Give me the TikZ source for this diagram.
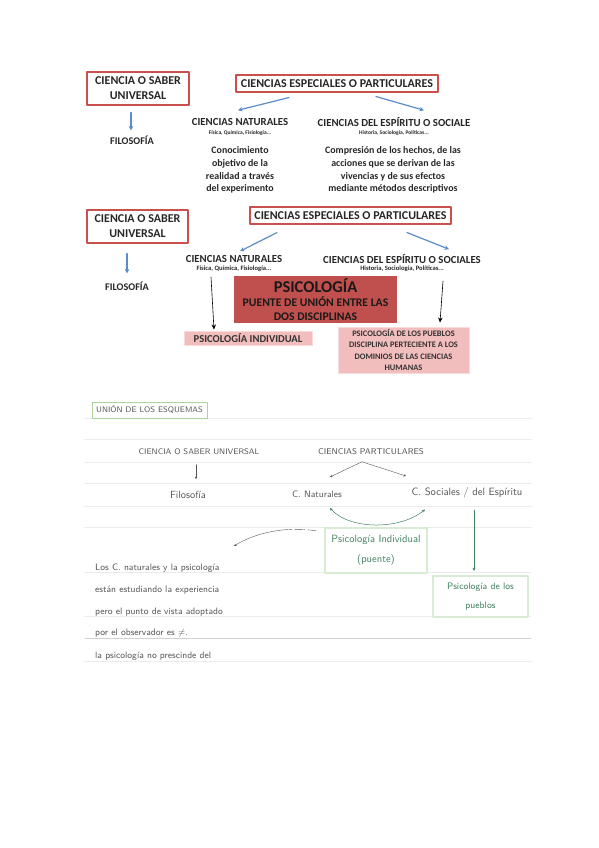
\documentclass[tikz,border=0pt]{standalone}
\usepackage{fontspec}
\setmainfont{Carlito}
\usepackage{xcolor}
\usetikzlibrary{arrows.meta}
\definecolor{boxred}{HTML}{C9504D}
\definecolor{arrblue}{HTML}{5B8BC9}
\definecolor{psired}{HTML}{C0504D}
\definecolor{psipink}{HTML}{F2BDBD}
\definecolor{hgreen}{HTML}{3F7F60}
\definecolor{hbox}{HTML}{D8ECD4}
\definecolor{hunion}{HTML}{A9D49D}
\definecolor{hline}{HTML}{EBEBEB}
\definecolor{hink}{HTML}{555555}
\tikzset{
  every picture/.style={line join=round, line cap=round, >=Stealth},
  txt/.style={inner sep=0pt, text=black!85},
  redbox/.style={draw=boxred, line width=1.1pt, inner sep=0pt, align=center, text=black!85,
    font=\bfseries\fontsize{12}{15}\selectfont},
  title/.style={txt, font=\bfseries\fontsize{10.8}{12}\selectfont},
  subtitle/.style={txt, font=\bfseries\fontsize{5.5}{6}\selectfont},
  desc/.style={txt, align=center, font=\bfseries\fontsize{9.9}{12.8}\selectfont},
  bluearr/.style={draw=arrblue, line width=1.2pt, -{Stealth[length=4.5pt,width=4.5pt]}},
  blackarr/.style={draw=black, line width=0.6pt, -{Stealth[length=5pt,width=4.5pt]}},
  pinkbox/.style={fill=psipink, draw=psipink!55, line width=1pt, inner sep=0pt, align=center,
    text=black!80, font=\bfseries},
  hand/.style={inner sep=0pt, text=hink, font=\sffamily\fontsize{9.3}{11}\selectfont},
  handcaps/.style={inner sep=0pt, text=hink, font=\sffamily\fontsize{8.1}{9}\selectfont},
  handarr/.style={draw=hink, line width=0.4pt, -{Stealth[length=2.5pt,width=2.5pt]}},
  greenarr/.style={draw=hgreen, line width=0.5pt},
  greenbox/.style={draw=hbox, line width=2.4pt, inner sep=0pt, align=center, text=hgreen,
    font=\sffamily\fontsize{10.5}{20}\selectfont},
}

\begin{document}
\begin{tikzpicture}[x=1pt,y=-1pt]
\useasboundingbox (0,0) rectangle (599,848);
% first scheme
\begin{scope}
\node[redbox, minimum width=102pt, minimum height=33pt] (univ1) at (138,88.5) {CIENCIA O SABER\\UNIVERSAL};
\node[redbox, minimum width=202pt, minimum height=17pt] (esp1) at (337,83.5) {CIENCIAS ESPECIALES O PARTICULARES};
\node[title, font=\bfseries\fontsize{10.2}{11}\selectfont] (filo1) at (132,140) {FILOSOFÍA};
\node[title] (nat1) at (240,122) {CIENCIAS NATURALES};
\node[subtitle] (nat1s) at (240,133) {Física, Química, Fisiología...};
\node[title] (soc1) at (394,122) {CIENCIAS DEL ESPÍRITU O SOCIALE};
\node[subtitle] (soc1s) at (394,133) {Historia, Sociología, Políticas...};
\node[desc] (nat1d) at (240,170) {Conocimiento\\objetivo de la\\realidad a través\\del experimento};
\node[desc] (soc1d) at (393,170) {Compresión de los hechos, de las\\acciones que se derivan de las\\vivencias y de sus efectos\\mediante métodos descriptivos};
\draw[bluearr] ([xshift=-7pt,yshift=-7pt]univ1.south) -- ([xshift=-1pt,yshift=5pt]filo1.north);
\draw[bluearr] ([xshift=-48pt,yshift=-5pt]esp1.south) -- ([xshift=-2pt,yshift=8pt]nat1.north);
\draw[bluearr] ([xshift=39pt,yshift=-4pt]esp1.south) -- ([xshift=30pt,yshift=7pt]soc1.north);
\end{scope}
% second scheme
\begin{scope}
\node[redbox, minimum width=101pt, minimum height=33pt] (univ2) at (137.5,226.5) {CIENCIA O SABER\\UNIVERSAL};
\node[redbox, minimum width=201pt, minimum height=17pt] (esp2) at (350.5,215.5) {CIENCIAS ESPECIALES O PARTICULARES};
\node[title, font=\bfseries\fontsize{10.2}{11}\selectfont] (filo2) at (127,286) {FILOSOFÍA};
\node[title] (nat2) at (234,259) {CIENCIAS NATURALES};
\node[subtitle, font=\bfseries\fontsize{6.6}{7}\selectfont] (nat2s) at (234,269) {Física, Química, Fisiología...};
\node[title] (soc2) at (402,259) {CIENCIAS DEL ESPÍRITU O SOCIALES};
\node[subtitle, font=\bfseries\fontsize{6.6}{7}\selectfont] (soc2s) at (402,269) {Historia, Sociología, Políticas...};
\node[fill=psired, inner sep=0pt, minimum width=163pt, minimum height=47pt, align=center,
  text=black!90, font=\bfseries\fontsize{11.7}{14}\selectfont] (psi2) at (315.5,299.5)
  {{\fontsize{16.5}{15}\selectfont PSICOLOGÍA}\\PUENTE DE UNIÓN ENTRE LAS\\DOS DISCIPLINAS};
\node[pinkbox, minimum width=128pt, minimum height=14pt, font=\bfseries\fontsize{10.6}{11}\selectfont]
  (indiv2) at (248,338) {PSICOLOGÍA INDIVIDUAL};
\node[pinkbox, minimum width=131pt, minimum height=46pt, font=\bfseries\fontsize{8.4}{11}\selectfont]
  (pueb2) at (403.5,350) {PSICOLOGÍA DE LOS PUEBLOS\\DISCIPLINA PERTECIENTE A LOS\\DOMINIOS DE LAS CIENCIAS\\HUMANAS};
\draw[bluearr] ([xshift=-10.5pt,yshift=-10pt]univ2.south) -- ([yshift=8pt]filo2.north);
\draw[bluearr] ([xshift=-73.5pt,yshift=-8pt]esp2.south) -- ([xshift=6pt,yshift=4pt]nat2.north);
\draw[bluearr] ([xshift=56.5pt,yshift=-8pt]esp2.south) -- ([xshift=47pt,yshift=5pt]soc2.north);
\draw[blackarr] ([xshift=-23pt,yshift=-5pt]nat2s.south) -- ([xshift=-34pt,yshift=1pt]indiv2.north);
\draw[blackarr] ([xshift=41pt,yshift=-9pt]soc2s.south) -- ([xshift=36.5pt,yshift=4pt]pueb2.north);
\end{scope}
% union of both schemes (notes)
\begin{scope}
\foreach \y in {418,439,462,483,506,527,572,616,661} {\draw[hline, line width=0.6pt] (85,\y) -- (531,\y);}
\draw[black!18, line width=0.8pt] (85,638) -- (531,638);
\node[draw=hunion, line width=0.8pt, minimum width=115pt, minimum height=16pt, inner sep=0pt,
  text=hink, font=\sffamily\fontsize{8}{9}\selectfont] (unionH) at (149.5,410) {UNIÓN DE LOS ESQUEMAS};
\node[handcaps] (univH) at (199,452) {CIENCIA O SABER UNIVERSAL};
\node[handcaps, font=\sffamily\fontsize{8.4}{9}\selectfont] (partH) at (371,452) {CIENCIAS PARTICULARES};
\node[hand, font=\sffamily\fontsize{10.4}{11}\selectfont] (filoH) at (188,495) {Filosofía};
\node[hand] (natH) at (317,494) {C. Naturales};
\node[hand, font=\sffamily\fontsize{10.6}{11}\selectfont] (socH) at (467,493) {C. Sociales / del Espíritu};
\node[greenbox, minimum width=102pt, minimum height=45pt] (pindH) at (376,550.5) {Psicología Individual\\(puente)};
\node[greenbox, minimum width=95pt, minimum height=41pt, font=\sffamily\fontsize{9.4}{19}\selectfont]
  (pueblosH) at (480.5,596.5) {Psicología de los\\pueblos};
\foreach \y/\txt in {568/Los C. naturales y la psicología, 590/están estudiando la experiencia,
  612/pero el punto de vista adoptado, 633/por el observador es $\neq$., 656/la psicología no prescinde del}
  {\node[hand, anchor=west] (nota\y) at (95,\y) {\txt};}
\coordinate (notaTip) at (234,546);
\draw[handarr] ([xshift=-3pt,yshift=-9.5pt]univH.south) -- ([xshift=8pt,yshift=12pt]filoH.north);
\draw[handarr] ([xshift=-9pt,yshift=-6.5pt]partH.south) -- ([xshift=13pt,yshift=13.5pt]natH.north);
\draw[handarr] ([xshift=-9pt,yshift=-6.5pt]partH.south) -- ([xshift=-61pt,yshift=11.5pt]socH.north);
\draw[greenarr, {Stealth[length=3pt,width=3pt]}-{Stealth[length=3pt,width=3pt]}]
  ([xshift=13pt,yshift=-10.5pt]natH.south) .. controls (350,530) and (400,530) .. ([xshift=-42pt,yshift=-11pt]socH.south);
\draw[greenarr, -{Stealth[length=3pt,width=3pt]}] ([xshift=7pt,yshift=-11.5pt]socH.south) -- ([xshift=-6.5pt,yshift=4pt]pueblosH.north);
\draw[handarr, dash pattern=on 8pt off 3pt on 10pt off 3pt on 200pt]
  ([xshift=-8pt,yshift=-4pt]pindH.north west) .. controls (285,526) and (255,533) .. (notaTip);
\end{scope}
\end{tikzpicture}
\end{document}
